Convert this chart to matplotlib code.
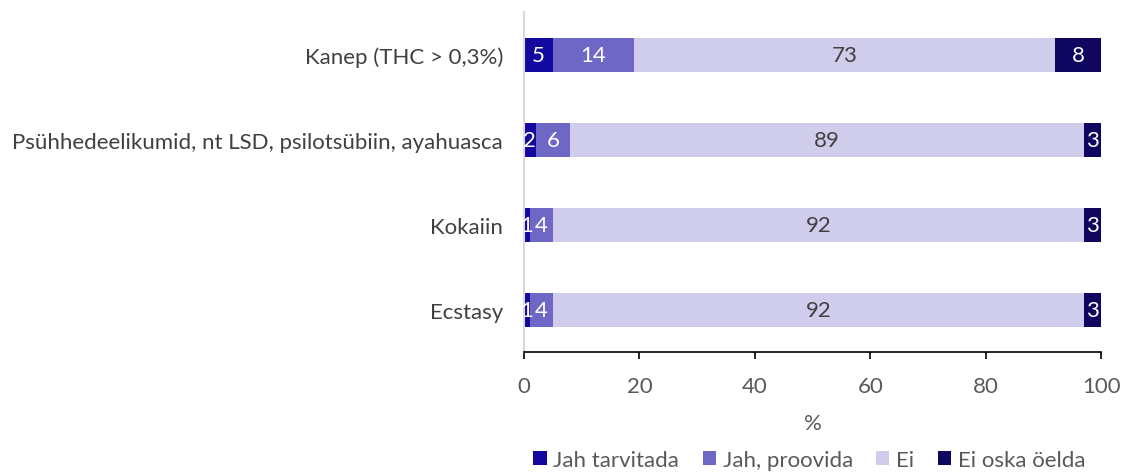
import matplotlib
matplotlib.use("Agg")
import matplotlib.pyplot as plt
import numpy as np

plt.rcParams['font.family'] = ['Lato', 'DejaVu Sans']

categories = ["Kanep (THC > 0,3%)",
              "Psühhedeelikumid, nt LSD, psilotsübiin, ayahuasca",
              "Kokaiin",
              "Ecstasy"]
series_names = ["Jah tarvitada", "Jah, proovida", "Ei", "Ei oska öelda"]
jah_tarvitada = [5, 2, 1, 1]
jah_proovida = [14, 6, 4, 4]
ei = [73, 89, 92, 92]
ei_oska = [8, 3, 3, 3]
colors = ["#14099E", "#6F67C5", "#CFCDEB", "#0E065F"]
xticks = [0, 20, 40, 60, 80, 100]

FS = 16
fig = plt.figure(figsize=(11.27, 4.77), dpi=100)
ax = fig.add_axes([0.465, 0.259, 0.512, 0.7127])

y = np.arange(len(categories))
left = np.zeros(len(categories))
for name, vals, c in zip(series_names, [jah_tarvitada, jah_proovida, ei, ei_oska], colors):
    vals = np.array(vals, dtype=float)
    ax.barh(y, vals, left=left, height=0.41, color=c, label=name)
    for yi, l, v in zip(y, left, vals):
        ax.text(l + v / 2, yi, f"{int(v)}", ha='center', va='center',
                color='white' if c != "#CFCDEB" else '#404040', fontsize=FS)
    left += vals

ax.set_ylim(3.5, -0.5)
ax.set_xlim(0, 100)
ax.set_yticks(y)
ax.set_yticklabels(categories, fontsize=FS, color='#404040')
ax.set_xticks(xticks)
ax.set_xticklabels([str(t) for t in xticks], fontsize=FS, color='#595959')
ax.tick_params(axis='y', length=0, pad=15)
ax.tick_params(axis='x', direction='out', length=5, width=1.2, color='black', pad=12)
for s in ['top', 'right']:
    ax.spines[s].set_visible(False)
ax.spines['left'].set_color('#D9D9D9')
ax.spines['left'].set_linewidth(1.5)
ax.spines['bottom'].set_color('black')
ax.spines['bottom'].set_linewidth(1.2)
ax.set_xlabel('%', fontsize=FS, color='#595959', labelpad=12)

handles, labels = ax.get_legend_handles_labels()
fig.legend(handles, labels, loc='center', bbox_to_anchor=(0.718, 0.034), ncol=4,
           frameon=False, fontsize=FS, handlelength=0.6, handleheight=0.6,
           handletextpad=0.3, columnspacing=1.05, labelcolor='#595959')

fig.savefig('out.png', dpi=100)
